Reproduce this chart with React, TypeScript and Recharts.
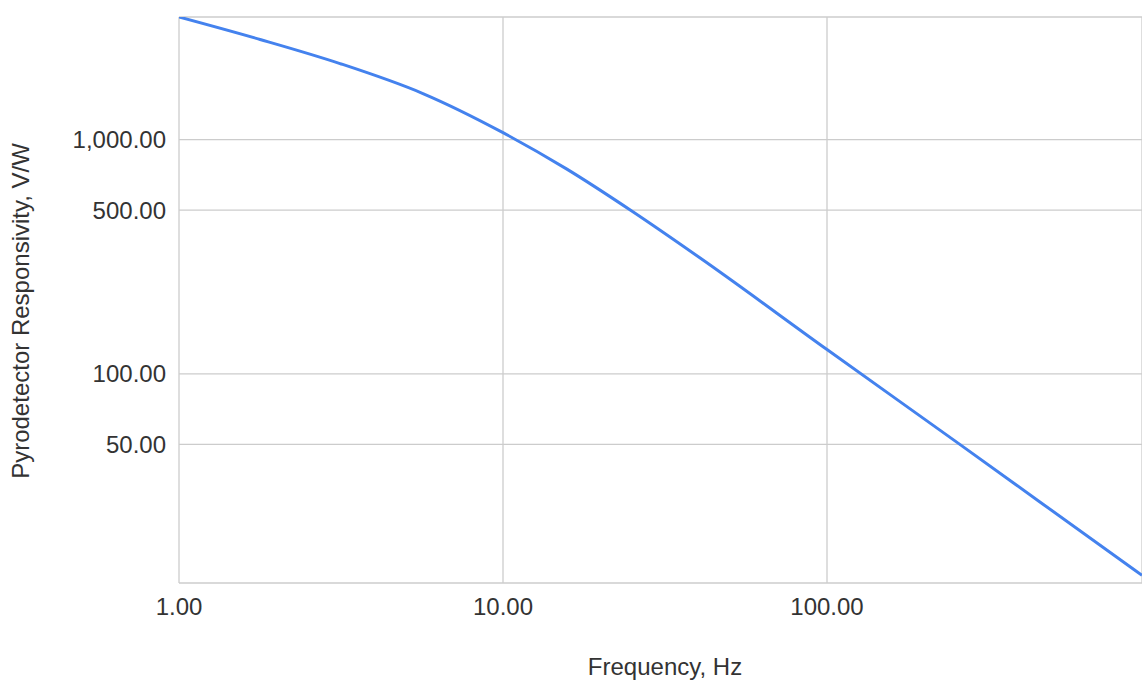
import { LineChart, Line, XAxis, YAxis, CartesianGrid } from 'recharts';

const frequencies = [1, 1.78, 3.14, 5.66, 10, 15.7, 24.9, 40.5, 100, 257, 454, 938];
const responsivity = [3338, 2676, 2112, 1573, 1071, 750, 497, 313, 127, 50, 28.4, 13.8];

const xTicks = [1, 10, 100];
const yTicks = [50, 100, 500, 1000];

const data = frequencies.map((f, i) => ({ f, r: responsivity[i] }));

const FONT = '"Liberation Sans", Arial, sans-serif';
const fmt = (v: number) =>
  v.toLocaleString('en-US', { minimumFractionDigits: 2, maximumFractionDigits: 2 });

export default function App() {
  return (
    <div style={{ position: 'absolute', left: 0, top: 0, background: '#fff' }}>
      <LineChart width={1142} height={680} data={data} margin={{ top: 17, right: 0, left: 0, bottom: 0 }}>
        <CartesianGrid stroke="#cccccc" strokeWidth={1.3} />
        <XAxis
          dataKey="f"
          type="number"
          scale="log"
          domain={[1, 938]}
          allowDataOverflow
          ticks={xTicks}
          tickFormatter={fmt}
          axisLine={false}
          tickLine={false}
          tickSize={0}
          tickMargin={15}
          height={97}
          tick={{ fontSize: 24, fill: '#333', fontFamily: FONT }}
          label={{
            content: () => (
              <text x={665} y={675} textAnchor="middle" fontSize={24} fill="#333" fontFamily={FONT}>
                Frequency, Hz
              </text>
            ),
          }}
        />
        <YAxis
          type="number"
          scale="log"
          domain={[12.8, 3338]}
          allowDataOverflow
          ticks={yTicks}
          tickFormatter={fmt}
          axisLine={false}
          tickLine={false}
          tickSize={0}
          tickMargin={13}
          width={179}
          tick={{ fontSize: 24, fill: '#333', fontFamily: FONT }}
          label={{
            content: () => (
              <text
                x={29}
                y={311}
                transform="rotate(-90 29 311)"
                textAnchor="middle"
                fontSize={24}
                fill="#333"
                fontFamily={FONT}
              >
                Pyrodetector Responsivity, V/W
              </text>
            ),
          }}
        />
        <Line
          type="monotone"
          dataKey="r"
          stroke="#4482ee"
          strokeWidth={3}
          dot={false}
          isAnimationActive={false}
        />
      </LineChart>
    </div>
  );
}
